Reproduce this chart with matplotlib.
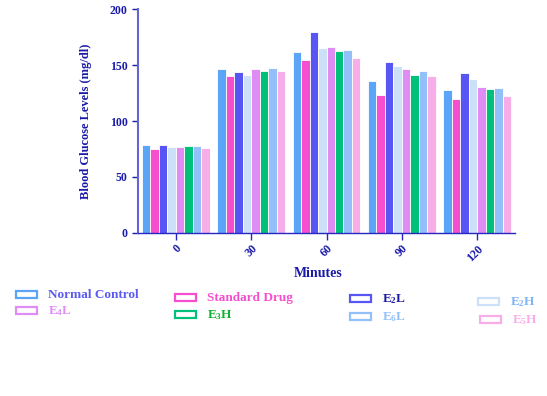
import matplotlib
matplotlib.use("Agg")
import matplotlib.pyplot as plt
import numpy as np
from matplotlib.patches import Rectangle

plt.rcParams['font.family'] = ['Liberation Serif', 'DejaVu Serif']
plt.rcParams['font.weight'] = 'bold'
plt.rcParams['mathtext.fontset'] = 'custom'
plt.rcParams['mathtext.rm'] = 'Liberation Serif:bold'
plt.rcParams['mathtext.default'] = 'rm'

minutes = ['0', '30', '60', '90', '120']

groups = ['Normal Control', 'Standard Drug', r'E$_2$L', r'E$_2$H',
          r'E$_4$L', r'E$_3$H', r'E$_6$L', r'E$_5$H']

normal_control = [78.5, 146.2, 162.0, 135.5, 127.8]
standard_drug = [75.2, 140.0, 154.8, 123.6, 119.8]
e2l = [78.2, 144.1, 179.2, 152.5, 142.6]
e2h = [77.0, 140.9, 165.2, 149.2, 137.3]
e4l = [76.4, 146.2, 166.1, 146.2, 130.5]
e3h = [77.9, 144.7, 162.6, 141.2, 128.7]
e6l = [77.3, 147.1, 163.2, 144.7, 129.6]
e5h = [76.1, 145.0, 156.3, 140.0, 122.7]

series = [normal_control, standard_drug, e2l, e2h, e4l, e3h, e6l, e5h]
bar_colors = ['#5aa5f8', '#f54fd0', '#5855f5', '#cce0f8',
              '#df8cf5', '#00c07a', '#94c0fa', '#f7aee8']
text_colors = ['#5a5af0', '#f54fd0', '#1a1aa0', '#80b4f8',
               '#df8cf5', '#10b030', '#94c0fa', '#f7aee8']

fig = plt.figure(figsize=(5.47, 3.96), dpi=100)
ax = fig.add_axes([138 / 547, 1 - 233 / 396, 377 / 547, 224 / 396])

x = np.arange(len(minutes))
n = len(series)
w = 0.9 / n
for i, (vals, c) in enumerate(zip(series, bar_colors)):
    ax.bar(x - 0.45 + w * (i + 0.5), vals, width=w, color=c,
           edgecolor='white', linewidth=0.6)

ax.set_xlim(-0.5, 4.5)
ax.set_ylim(0, 200)
ax.set_yticks([0, 50, 100, 150, 200])
ax.set_xticks(x)
ax.set_xticklabels(minutes, rotation=45, ha='right', va='top', rotation_mode='anchor')

for s in ['top', 'right']:
    ax.spines[s].set_visible(False)
ax.spines['left'].set_color('#6464d2')
ax.spines['left'].set_linewidth(1.5)
ax.spines['bottom'].set_color('#2828c0')
ax.spines['bottom'].set_linewidth(1.0)
ax.tick_params(axis='y', colors='#1a1aa8', labelsize=8.5, length=4, width=1, direction='out')
ax.tick_params(axis='x', colors='#2828c0', labelcolor='#1a1aa8', labelsize=8.5, length=5, width=1, pad=2)

ax.set_ylabel('Blood Glucose Levels (mg/dl)', color='#1a1aa8', fontsize=9, fontweight='bold', labelpad=13)
ax.set_xlabel('Minutes', color='#1a1aa8', fontsize=10, fontweight='bold', va='center')
ax.xaxis.set_label_coords(0.477, -0.183)

# hand-placed legend: outline box + coloured label
legend_pos = [(16, 291), (175, 294), (350, 295), (478, 298),
              (16, 307), (175, 311), (350, 313), (480, 316)]
for (px, py), name, bc, tc in zip(legend_pos, groups, bar_colors, text_colors):
    fig.patches.append(Rectangle((px / 547, 1 - (py + 7) / 396), 21 / 547, 7 / 396,
                                 transform=fig.transFigure, fill=False,
                                 edgecolor=bc, linewidth=1.6))
    fig.text((px + 32) / 547, 1 - (py + 4) / 396, name, color=tc,
             fontsize=9.5, fontweight='bold', va='center', ha='left')

fig.savefig('out.png', dpi=100)
